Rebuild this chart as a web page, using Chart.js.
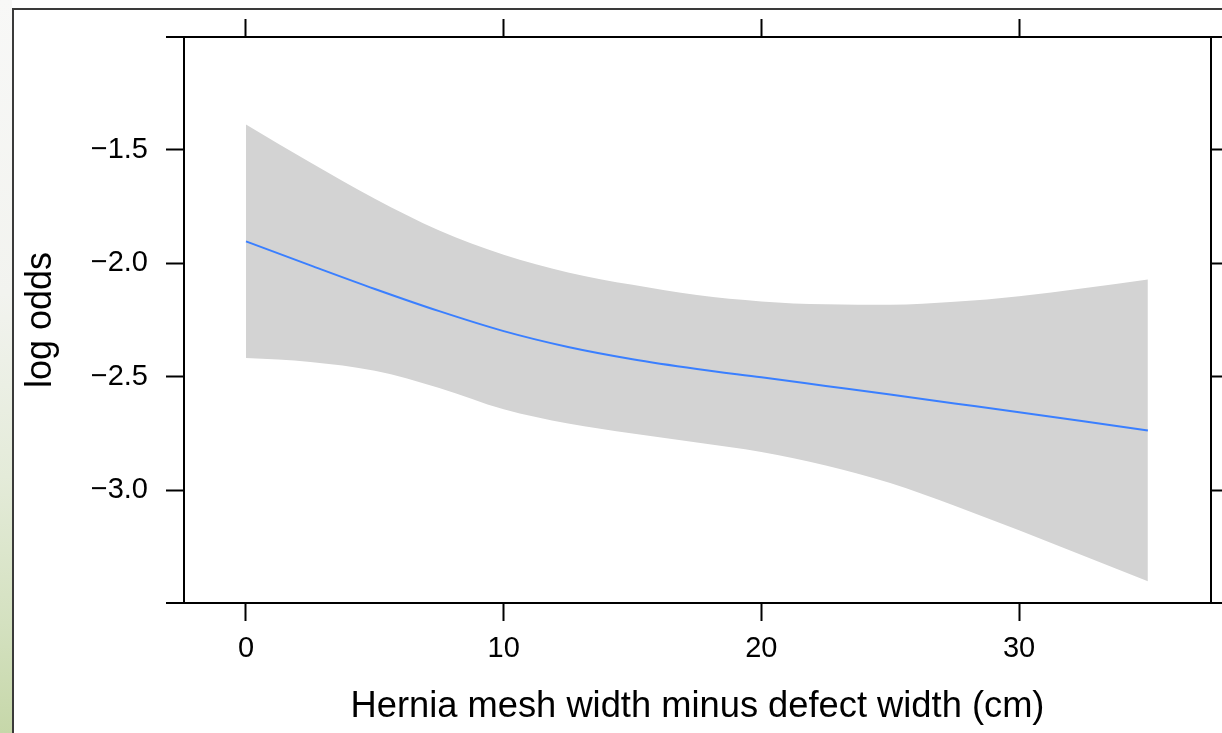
<!DOCTYPE html>
<html>
<head>
<meta charset="utf-8">
<script src="https://cdn.jsdelivr.net/npm/chart.js@4.4.1/dist/chart.umd.min.js"></script>
<style>
  html, body { margin: 0; padding: 0; background: #ffffff; }
  #c { display: block; }
</style>
</head>
<body>
<canvas id="c" width="1222" height="733"></canvas>
<script>
// ---- data ----
const xValues  = [0, 2.5, 5, 7.5, 10, 12.5, 15, 17.5, 20, 22.5, 25, 27.5, 30, 32.5, 35];
const fitValues = [-1.903, -2.009, -2.113, -2.211, -2.299, -2.369, -2.423, -2.466, -2.503, -2.541, -2.579, -2.618, -2.657, -2.697, -2.737];
const upperValues = [-1.387, -1.555, -1.715, -1.855, -1.962, -2.040, -2.095, -2.140, -2.168, -2.181, -2.183, -2.170, -2.145, -2.110, -2.071];
const lowerValues = [-2.418, -2.435, -2.474, -2.550, -2.644, -2.707, -2.751, -2.790, -2.832, -2.892, -2.969, -3.069, -3.178, -3.290, -3.403];
const xTicks = [0, 10, 20, 30];
const yTicks = [-3.0, -2.5, -2.0, -1.5];
const xTitle = 'Hernia mesh width minus defect width (cm)';
const yTitle = 'log odds';
const xRange = [-2.406, 37.45];
const yRange = [-3.4985, -1.0015];

const toPts = ys => xValues.map((x, i) => ({ x: x, y: ys[i] }));
const FONT = "'Liberation Sans', Arial, Helvetica, sans-serif";

const bgPlugin = {
  id: 'bg',
  beforeDraw(chart) {
    const ctx = chart.ctx, W = chart.width, H = chart.height;
    ctx.save();
    ctx.fillStyle = '#ffffff';
    ctx.fillRect(0, 0, W, H);
    const g = ctx.createLinearGradient(0, 0, 0, H);
    g.addColorStop(0, '#f8f8f7');
    g.addColorStop(0.4, '#f2f3ef');
    g.addColorStop(0.65, '#e4ebd9');
    g.addColorStop(0.85, '#d4e1c0');
    g.addColorStop(1, '#c6d7a9');
    ctx.fillStyle = g;
    ctx.fillRect(0, 0, 12, H);
    ctx.strokeStyle = '#3a3a3a';
    ctx.lineWidth = 2;
    ctx.beginPath();
    ctx.moveTo(13, H + 2);
    ctx.lineTo(13, 9);
    ctx.lineTo(W + 2, 9);
    ctx.stroke();
    ctx.restore();
  }
};

const boxPlugin = {
  id: 'box',
  afterDraw(chart) {
    const a = chart.chartArea, ctx = chart.ctx;
    const ext = chart.options.scales.y.grid.tickLength;
    ctx.save();
    ctx.strokeStyle = '#000000';
    ctx.lineWidth = 2;
    ctx.beginPath();
    ctx.moveTo(a.left - ext, a.top); ctx.lineTo(chart.width + 2, a.top);
    ctx.moveTo(a.left - ext, a.bottom); ctx.lineTo(chart.width + 2, a.bottom);
    ctx.moveTo(a.left, a.top); ctx.lineTo(a.left, a.bottom);
    ctx.moveTo(a.right, a.top); ctx.lineTo(a.right, a.bottom);
    ctx.stroke();
    ctx.restore();
  }
};

const gridOpts = {
  display: true, drawOnChartArea: false, drawTicks: true,
  tickLength: 18, tickWidth: 2, tickColor: '#000000'
};
const fmtY = v => (v < 0 ? '\u2212' : '') + Math.abs(v).toFixed(1);

new Chart(document.getElementById('c'), {
  type: 'line',
  data: {
    datasets: [
      { label: 'fit', data: toPts(fitValues), borderWidth: 2, borderColor: '#3a7fff',
        fill: false, pointRadius: 0, cubicInterpolationMode: 'monotone', order: 0 },
      { label: 'upper', data: toPts(upperValues), borderWidth: 0, borderColor: 'rgba(0,0,0,0)',
        backgroundColor: '#d3d3d3', fill: '+1', pointRadius: 0, cubicInterpolationMode: 'monotone', order: 1 },
      { label: 'lower', data: toPts(lowerValues), borderWidth: 0, borderColor: 'rgba(0,0,0,0)',
        backgroundColor: '#d3d3d3', fill: false, pointRadius: 0, cubicInterpolationMode: 'monotone', order: 2 }
    ]
  },
  options: {
    responsive: false,
    animation: false,
    devicePixelRatio: 1,
    layout: { padding: 0 },
    plugins: { legend: { display: false }, tooltip: { enabled: false } },
    scales: {
      x: {
        type: 'linear', position: 'bottom', min: xRange[0], max: xRange[1],
        afterBuildTicks: s => { s.ticks = xTicks.map(v => ({ value: v })); },
        afterFit: s => { s.height = 130; },
        grid: gridOpts, border: { display: false },
        ticks: { color: '#000', font: { family: FONT, size: 29 }, padding: 10.6, maxRotation: 0,
                 callback: v => String(v) },
        title: { display: true, text: xTitle, color: '#000', font: { family: FONT, size: 36.3 },
                 padding: { top: 0, bottom: 4 } }
      },
      x2: {
        type: 'linear', position: 'top', min: xRange[0], max: xRange[1],
        afterBuildTicks: s => { s.ticks = xTicks.map(v => ({ value: v })); },
        afterFit: s => { s.height = 37; },
        grid: gridOpts, border: { display: false },
        ticks: { display: false }
      },
      y: {
        type: 'linear', position: 'left', min: yRange[0], max: yRange[1],
        afterBuildTicks: s => { s.ticks = yTicks.map(v => ({ value: v })); },
        afterFit: s => { s.width = 184; },
        grid: gridOpts, border: { display: false },
        ticks: { color: '#000', font: { family: FONT, size: 29 }, padding: 18, callback: fmtY },
        title: { display: true, text: yTitle, color: '#000', font: { family: FONT, size: 36 },
                 padding: { top: 19, bottom: 0 } }
      },
      y2: {
        type: 'linear', position: 'right', min: yRange[0], max: yRange[1],
        afterBuildTicks: s => { s.ticks = yTicks.map(v => ({ value: v })); },
        afterFit: s => { s.width = 11; },
        grid: gridOpts, border: { display: false },
        ticks: { display: false }
      }
    }
  },
  plugins: [bgPlugin, boxPlugin]
});
</script>
</body>
</html>
